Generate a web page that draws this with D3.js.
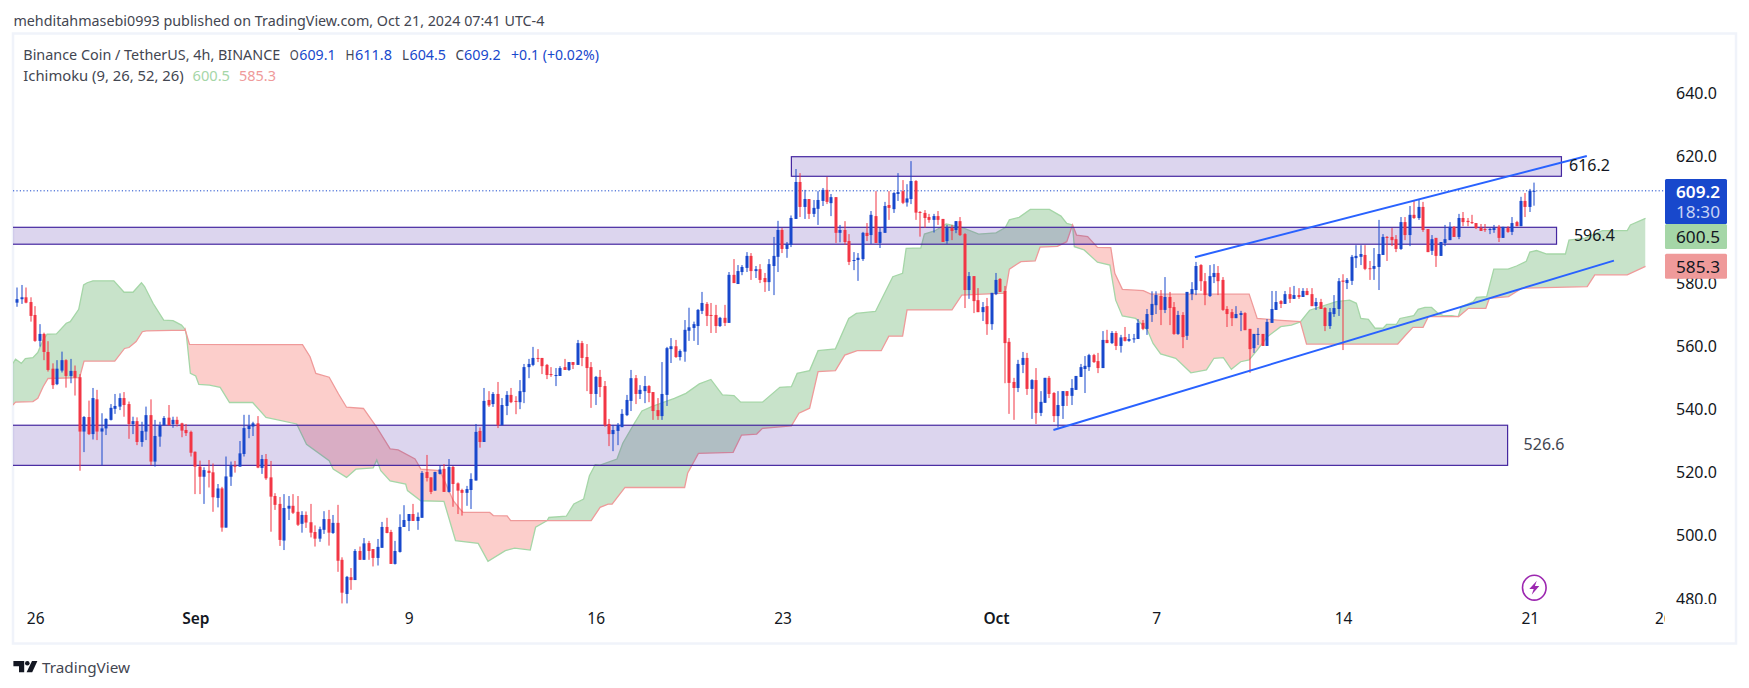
<!DOCTYPE html>
<html><head><meta charset="utf-8">
<style>html,body{margin:0;padding:0;background:#fff}svg{display:block;font-family:"Noto Sans",sans-serif}</style>
<script src="https://cdn.jsdelivr.net/npm/d3@7/dist/d3.min.js"></script>
</head><body>
<svg id="c" width="1749" height="688"></svg>
<script>
const opens=[573.8,574.9,575.5,574,569.9,561.7,563.9,558.2,552.9,548,
552.3,555.6,550.6,552.2,550.2,533,537.6,532.2,543.2,533,
534,536.7,540.2,540.9,543.6,541.7,535.4,536.3,529.7,533,
538.2,523.5,531.4,535,537.4,535.4,536.7,535.6,533.5,532.9,
526.6,521.9,518.7,520.6,520.1,512,515,502.6,518.7,522.2,
521.9,525.9,533.8,534.6,535.6,521.5,524.3,518.5,512.6,510.1,
498.5,508.6,509.5,507.6,503.8,506.6,504.3,501.2,499.1,501.9,
505.3,500.9,504.1,492.4,481.6,486.9,486,495.2,492.4,497.7,
495.8,493,496.2,502.8,501.2,491.1,494.9,502.8,504.7,506.9,
504.7,505.7,520.2,518.5,514.3,519.6,521.2,513.9,521.8,516.6,
514.5,513.6,514.5,517.5,533.2,529.7,543,541.7,544.9,535,
541.1,544.6,542.7,542.3,545.5,553.4,554.1,556.3,556.3,554.1,
551.2,550.7,550.6,553.4,552.5,555,554.1,561,556.6,553.4,
544.9,550.3,547.4,535.4,532.2,533.2,534.4,538.2,542.7,549.9,
544.9,545.8,547.4,545.5,539.8,537.9,544.6,559.1,560,556.6,
558.3,564.9,565.8,566.4,571.2,573.4,569.9,569.9,566.4,569,
567.4,582.6,579.7,583.5,584.8,588.6,583.8,584.4,581.6,580.3,
585.4,588.3,596.8,590.8,592.1,600.3,612,604.1,606.6,601.9,
603.5,606,609.5,605.3,607.2,595.9,596.8,593.3,587,587.3,
587.6,595.9,595.2,601.2,592.7,595.9,604.7,603.4,608.2,609.1,
605.5,606.6,612.3,602.5,602.2,600.9,600,601.2,600.3,593.3,
597.4,596.8,599.6,595.5,577.8,582.2,574.6,570.8,572.7,567,
576.5,581.3,577.5,561.4,548.7,546.8,554.1,556.3,546.5,549.3,
538.9,542.1,550,545.2,537.9,541.1,545.8,544.3,546.2,550.3,
552.8,553.4,557.2,555.3,553.1,562,561,564.2,560.1,562.9,
561.7,562.4,562.3,567.4,565.5,569.9,573,575.9,571.5,575.6,
572.4,563.9,569.9,563.3,576.5,577.8,585.7,580.6,575.9,581.9,
583.2,581,571.8,570.8,568.9,569.9,570.5,565.5,559.4,563.7,
563.9,560.1,567.4,571.5,574.3,573.4,576.5,575,576.2,575.6,
577.5,576.5,572.7,574,572.1,566.4,570.2,571.8,580.8,580,
580.7,587.9,588.3,588.9,584.7,584.5,585.1,588.9,594.6,594.6,
593.9,590.8,599.3,595.2,601.6,600.6,604.1,597.1,590.2,594.3,
588.6,592.7,593.6,597.8,594.6,600.6,599.7,599.3,599,597.5,
597.1,596.8,596.8,597.8,594.3,597.4,596.2,599.3,598,606,
604.1,609.1];
const closes=[574.9,575.5,573.8,569.6,561.7,563.9,558.2,552.5,547.7,552.9,
555.6,550.6,552.2,550,533,537.6,532.2,543.6,533,534,
537,540.5,541.1,543.6,541.4,535.4,536.3,529.7,533.2,538.2,
523.5,531.6,535,537.3,535,536.7,535.4,533.3,532.5,526.3,
521.9,518.7,520.8,519.9,512.2,515,502.6,518.8,522.4,521.9,
526.1,534.1,534.8,535.6,521.6,524.3,518.2,512.4,509.8,498.7,
508.8,509.5,507.3,503.5,506.6,504.2,501,499.1,502.1,505.3,
501,504.1,492.1,482,487,486,495.2,492.4,497.6,495.2,
493,496.5,502.8,500.9,491.1,495.2,502.8,505,506.9,504.7,
506,519.9,518.3,513.9,520.2,521,513.9,521.8,516.4,514.3,
513.6,514.8,518,532.9,529.7,542.7,541.3,544.9,535,541.4,
544.6,542.3,542.5,545.8,553.4,554.4,556.3,556,553.7,550.9,
550.9,550.9,553.1,552.5,555,554.1,561,556.3,553.1,544.9,
550.3,547.1,535,532.2,533.5,535.1,538.6,543,549.9,544.9,
546.2,547.4,545.2,539.5,537.9,544.9,559.4,560,556.6,558.5,
565.2,566,567,571.5,573.7,569.6,569.6,566.4,569,567.4,
582.6,580,583.8,585.1,588.6,583.8,584.4,581,580.3,586,
588.6,596.8,590.8,592.4,600.6,612,604.1,606.6,601.9,603.8,
606.3,609.5,605.7,607.2,595.9,596.8,593,586.7,587.3,588,
595.9,594.9,601.6,592.7,596.2,604.4,603.8,608.5,608.8,605.4,
606.8,612.3,602.3,602.2,600.6,600,601.2,600,593,597.4,
596.5,599.6,595.2,577.8,582.2,574.3,570.8,572.4,567,576.9,
581,577.2,561,548.4,546.8,554.4,556.3,546.5,549.3,538.9,
542.4,550,544.9,537.9,541.4,545.8,544.3,546.8,550.6,553.4,
553.8,557.2,555,553.1,562,561,564.2,560.1,562.8,561.7,
562.3,562.5,567.4,565.5,570.2,573.4,576.2,571.5,575.6,572.1,
563.9,569.9,562.9,577.2,578.1,585.4,580.6,576.2,582.2,583.2,
580.6,571.5,570.2,568.9,570.2,570.5,565.1,559.1,563.9,563.9,
560.1,567.7,571.8,574,573.4,576.5,575,576.2,575.6,577.5,
576.2,572.7,574,571.8,566.4,570.8,572.1,580.6,580.4,581,
588.3,588.6,589.2,584.5,584.5,585.4,589.2,594.6,594.3,593.6,
590.8,599.3,595.2,601.6,600.6,604.1,596.8,589.8,593.9,588.6,
593,593.9,597.8,594.6,600.6,599.3,599.3,599,597.4,596.5,
596.8,597.1,597.4,594.3,597.8,596.2,599,598,606,604.1,
609.2,609.2];
const highs=[578.6,579.4,578.6,575.5,572.7,567,564.3,561.6,554.6,555.6,
558.3,555.9,556,553.9,551.2,537.9,542.8,546.8,546.2,538.8,
537.2,541.7,544.9,545.1,545.5,542.5,537.7,537.5,536.1,540.9,
543.2,536.7,536.1,537.9,541.4,537.7,537.7,535.8,535.4,533.3,
526.7,523.8,521.7,524,522.9,516.4,515.5,525.1,523.5,523.7,
530,538.3,538.3,536.1,537.9,525.6,525.9,523.7,513.5,512.3,
513.2,512.6,513.2,512.6,507.8,507.7,510.1,503.3,502.9,507.8,
508.2,506.6,509.8,493.2,487.3,489.8,495.8,496.6,499.3,498.4,
495.8,499,504.4,505.7,501.9,498.4,506.8,509.7,506.9,510.1,
507.4,520.5,525.6,518.5,520.3,522.2,522.7,524.3,522.1,516.9,
514.9,515.8,519.8,535.4,534.3,546.8,545.8,545.5,548.7,543.6,
545.8,546.8,544.2,549.3,554.4,556,559.8,559.1,556.3,554.4,
553.4,553.1,553.7,556,555,555,562,561.7,560.7,555,
550.6,552.5,549,537,535.1,535.7,540.1,544.6,552.5,550.9,
547.7,550.6,547.7,545.5,543.6,555,559.8,562.6,562,559,
568.3,572.2,567.8,571.8,577.2,574,573.7,573.1,569.3,573.1,
583.5,587.6,585.7,585.7,589.8,589.5,585.4,586,583.2,587.6,
594.6,599.7,597.4,593,601.4,616.1,614.8,609.5,606.6,606.3,
609.1,610.1,613.6,608.2,607.2,598.4,599.6,595.5,589.8,589.5,
596.2,599,602.8,609.1,597.7,605.7,609.1,608.8,614.8,612.6,
611.3,618.6,612.6,602.8,603.1,601.9,601.9,602.8,600.3,598.4,
598.4,599.6,600.9,595.8,583.5,582.2,578.4,574,575.3,576.9,
583.2,581.6,579.1,562.6,550,555.7,558.2,557.9,549.6,553.1,
545.8,550,550.6,545.5,545.8,545.8,545.8,549.6,550.6,554.4,
556.9,557.6,557.6,557.9,564.8,565.2,564.8,564.8,563.6,566.1,
563.9,563.9,568.6,568.3,571.8,577.4,577.4,577.8,581.9,577.2,
574,571.2,570.8,577.2,580.3,586.7,586,583.2,585.7,586,
585.4,581.9,572.7,571.8,572.7,571.2,570.8,565.5,563.9,565.8,
563.9,568.6,577.5,577.5,574.6,577.5,578.7,579.1,578.4,578.4,
578.4,578.4,575.3,575,572.4,572.1,576.2,581.6,582.8,581.6,
588.9,592,592,592,587,591.1,600,595.5,594.9,597.4,
595.2,600.9,600.9,604.4,606.3,606.3,605.7,597.1,595.2,594.3,
593,598.4,599.3,598,601.9,602.5,600.6,601.6,599,598.7,
598.7,597.4,598.4,598.4,597.8,598,600.9,599.7,607.3,608.5,
609.8,611.8];
const lows=[572.5,573.4,573.6,567.8,561.4,559.9,555.6,552,546.5,547.7,
551.7,546.9,548.3,544.4,520.6,526.5,531.9,530.5,530.3,522.3,
531.9,536.5,538.6,539.8,537.7,530.7,532.2,528.7,528.2,530.3,
522.4,521.9,528.2,535,535,534.2,534.6,531.2,531.6,525.1,
513.2,513.2,510.1,515.3,507.6,509,501.3,502.6,515.8,520,
521.9,525.1,530.9,531.6,521.4,519.6,517.7,501.3,508.2,496.8,
495.5,505,506.9,503.1,501,502.5,499.5,496.6,498.1,500.6,
496.9,500.6,488.6,478.6,478.6,482.9,486,492.4,492.4,492.4,
490.3,490.6,496.2,500.8,491.1,490.9,494.7,502.8,501.5,504.7,
501.9,505.7,517.2,513.2,514.3,519.4,513.9,513.7,509.2,506.9,
506.4,509.5,508.5,517.5,527.9,529.7,540.8,540.8,534.1,535,
538.2,542,538.5,540.1,542,549.9,553.7,555,551.2,549.6,
550.3,547.4,550.6,552.5,552.2,552.8,554.1,553.7,545.8,540.5,
541.4,543.9,534.5,528.4,526.8,528.7,534.4,537.9,539.5,541.7,
543.3,542,542.3,536.7,536.7,536.7,541.1,554.7,556.3,555.5,
555.1,561.7,561.7,560.4,570.2,566.4,564.2,564.2,566.1,566.4,
567.4,580,579.7,582.5,583.5,581,581.6,580,577.2,577.5,
576.2,583.5,589.5,588,591.4,600.3,600.9,600.3,600.3,600.9,
598.4,604.4,605,601.2,592.7,592.9,592.1,585.7,584.1,580.7,
587,593.3,592.4,592.7,591.1,595.9,600,602.2,606,605,
604.2,605,600,594.7,597.5,599.1,596,598.4,593,592.4,
593.6,595.8,594.9,572.1,575,570.5,570.8,568,563.6,565.2,
576.2,577.2,548.3,538.6,536.7,545.5,551.5,544.6,537,535.4,
537.9,542.1,543.6,536,534.3,537,541.1,541.4,546.2,550.3,
545.2,552.2,554.7,551.5,553.1,561,560.7,558.8,558,561.5,
561.4,561.1,562.3,565.1,563.6,567.7,570.2,566.7,570.5,566.7,
563.6,563.6,559.4,562,574.6,576.2,577.5,573,575.6,580,
576.2,571.2,566.1,566.4,568.9,564.8,565.1,551.6,557.9,560.4,
560.1,560.1,567.4,571.5,572.1,573.4,573.7,575,575,575.6,
576.2,572.7,571.5,571.8,564.8,565.5,569.3,569.6,558.8,578.1,
579.4,584.8,585.7,584.1,581,581,577.8,588.9,587,591.7,
589.8,590.5,593.6,591.7,600.3,600,596.2,589.8,588.9,585.1,
588.6,591.7,593.6,594.6,593.9,598,598,598.7,597.1,596.5,
596.2,595.5,595.9,593,594.3,595.9,595.2,598,598,600.9,
602.5,604.5];

// Ichimoku spans: [bar number, price]
const spanA=[[-1,554.6],[-0.4,555.9],[0.9,554.6],[1.8,556.1],[3.5,556.4],[4.6,558],[5.8,562],[6.7,563.8],[8.8,563.9],[11,567.3],[11.9,567.8],[13.8,571.7],[14.9,579.4],[15.7,580.1],[17,580.7],[21.7,580.7],[24,577.1],[26,577.1],[27.9,580.1],[28.6,578.9],[30.5,573.6],[32.9,568.3],[35,568.1],[36.9,566.7],[37.7,565.4],[38,563.6],[38.9,551.4],[40.1,550.6],[40.8,547.9],[43.2,547.7],[45.6,547],[47.7,542.2],[52.9,542.2],[55.9,537.5],[62.8,535.4],[65,529],[70.1,523.8],[71,521.1],[74,518.5],[76.1,521.1],[80,521.5],[80.8,524],[81.7,520.6],[83.8,517.4],[87.3,516.4],[87.7,514.3],[90.7,511.1],[95.9,510.9],[98.5,498.5],[103.6,497.6],[105.8,491.9],[109.7,495.3],[111.8,496.1],[115.3,495.5],[116.5,502.7],[119.1,504.8],[119.5,505.8],[123.4,506.2],[125.1,510.1],[127.3,511.6],[128.6,519],[129.9,522.5],[131,522.4],[134.8,524.3],[136.1,529.3],[138.7,535.6],[140.4,539.5],[142.6,540.9],[147.7,543.5],[150.3,545.1],[153.3,548.1],[155.9,549.5],[158.5,544.6],[161.1,544.4],[162.6,542.3],[167.5,542.3],[171.4,547],[174,547.2],[175.3,551.4],[178.1,552.3],[180,558.6],[183.9,559.2],[186.9,568.8],[188.6,570.4],[192.9,571],[196.8,582],[199,583.1],[199.8,591],[203.1,591.1],[203.9,595.5],[206.2,596.5],[208.8,598.7],[212.3,597.6],[216.1,595.5],[220,595.9],[222.1,597.6],[223,600],[225.2,600.8],[227.7,603.3],[232,603.3],[234.6,601.2],[235.9,598.9],[237.2,598.4],[237.6,591.5],[239.8,590.5],[242.8,586.6],[245.6,585.7],[246.9,574.6],[248.4,569.6],[251.4,568.8],[254,565.2],[255.3,560.9],[257,557.6],[260.4,556.2],[263.8,551.6],[267.3,552.5],[269,556.2],[271.1,556.4],[272.9,552.7],[275,555.1],[276.9,555.7],[278.7,558.8],[281,563],[284,566.2],[286.4,566.7],[288.4,567.7],[290.5,571.4],[296.5,574.1],[299.5,574.6],[301,573.6],[302,568.8],[303.7,568.5],[305.2,565.7],[307,565.7],[307.8,566.9],[310,566.9],[310.8,568.8],[313.9,569.7],[314.9,571.7],[316.4,572.3],[317.9,572.3],[319.4,570.4],[320.5,569.7],[322.4,569.7],[323.9,569.4],[324.6,572.5],[327.3,574.1],[328,575.5],[330.3,575.7],[331.9,584.4],[335.1,584.4],[337,585.4],[339.2,586.9],[340,589.8],[341.5,590.3],[343.8,589.2],[348,589.2],[348.8,593.6],[352.4,594.2],[356.3,596.6],[361.9,596.6],[362.6,598.4],[366,600.5]];
const spanB=[[-1,541.4],[-0.4,542.3],[3.5,542.5],[4.6,543.5],[5.8,547.2],[6.9,549.8],[14,550.1],[15,555.3],[21.9,555.3],[24.1,559.3],[25.1,559.6],[26.7,561.5],[28.1,564.6],[29,564.9],[37.6,565.1],[37.7,565.4],[38.7,560.6],[64.1,560.5],[65.8,556.7],[67.1,551.4],[70.1,550.2],[72.2,544.9],[74,540.7],[77.8,540.3],[80.8,534.3],[83.8,527.5],[85.6,527.2],[89.4,524.3],[90.7,521.1],[95,520.6],[98,511.1],[99.3,508.8],[100.2,507.4],[106.2,507.4],[107,506.4],[110.1,506.3],[110.9,504.8],[129,504.8],[131,509],[132.8,510],[133.7,510],[136.6,515.3],[150,515.3],[150.7,519.9],[153.1,526.1],[160.9,526.4],[162.8,531.9],[166.2,532.2],[167.5,534],[174,534.8],[175.7,538.8],[178.1,540.4],[180,552],[183.9,552.3],[186,557.2],[188.8,558.6],[194.2,558.6],[195.9,563.2],[199,563.2],[200,571.5],[210.1,571.5],[212.3,576.2],[217,576.5],[222.1,576.8],[223,584.4],[225.6,586.8],[228.8,587],[229.9,591.4],[233.8,591.6],[235.9,593.1],[237.2,598.4],[238.1,595.2],[240.6,594.7],[242.8,591.3],[245.8,591.2],[246.7,583.1],[248.4,578],[253.1,577.6],[254.8,576.5],[276.9,576.5],[278.7,568.8],[283.2,568.3],[288.4,567.8],[289.8,560.7],[310.3,560.7],[312,563.4],[313.7,566],[316,566],[317.2,569.4],[324,569.4],[326.2,572],[330.1,572],[330.9,575.2],[335.2,575.7],[338.2,578.4],[352.9,578.9],[354.6,582.6],[361.9,582.6],[366,585.3]];

// Zones: [first bar, last bar, top price, bottom price]
const zones=[[174,347.1,620,613.8],[-2,346,597.65,592.3],[-2,335,535,522.3]];
const zoneLabels=["616.2","596.4","526.6"];
const zoneLabelBars=[348.8,349.9,338.6];
const zoneLabelPrices=[617.4,595.2,529];
const trendUpper=[[264.7,588.2],[352.8,620.2]];
const trendLower=[[232.9,533.5],[358.9,587.1]];

const priceTicks=[640,620,580,560,540,520,500,480];
const timeTickBars=[4,40,88,130,172,220,256,298,340,370];
const timeLabels=["26","Sep","9","16","23","Oct","7","14","21","26"];
const lastPrice=609.2, spanALast=600.5, spanBLast=585.3;

const paneLeft=13, paneRight=1665, paneTop=34, paneBottom=604;
const BLUE="#1848cc",RED="#f23645",INK="#131722",PURPLE="#4527a0";
const x=d3.scaleLinear().domain([0,341]).range([17.33,1534.3]);
const y=d3.scaleLinear().domain([480,620]).range([599,156.7]);
const svg=d3.select("#c");
const defs=svg.append("defs");
defs.append("clipPath").attr("id","pane").append("rect").attr("x",paneLeft).attr("y",paneTop).attr("width",paneRight-paneLeft).attr("height",paneBottom-paneTop);
defs.append("clipPath").attr("id","timeclip").append("rect").attr("x",paneLeft).attr("y",606).attr("width",paneRight-paneLeft).attr("height",36);
defs.append("clipPath").attr("id","priceclip").append("rect").attr("x",paneRight).attr("y",paneTop).attr("width",70).attr("height",paneBottom-paneTop);

function txt(s,px,py,len,size,fill,weight){
  const t=svg.append("text").attr("x",px).attr("y",py).attr("dominant-baseline","central").attr("font-size",size).attr("fill",fill).text(s);
  if(len)t.attr("textLength",len).attr("lengthAdjust","spacingAndGlyphs");
  if(weight)t.attr("font-weight",weight);
  return t;
}

// frame
svg.append("rect").attr("x",13).attr("y",33.5).attr("width",1723).attr("height",610).attr("fill","#fff").attr("stroke","#f0f3fa").attr("stroke-width",2.5);

const pane=svg.append("g").attr("clip-path","url(#pane)");

// cloud: one fill per colour, each limited to where its span is on top
const lineAB=d3.line().x(d=>x(d[0])).y(d=>y(d[1]));
const below=d3.area().x(d=>x(d[0])).y0(paneBottom+200).y1(d=>y(d[1]));
const above=d3.area().x(d=>x(d[0])).y0(-200).y1(d=>y(d[1]));
defs.append("clipPath").attr("id","aboveB").append("path").attr("d",above(spanB));
defs.append("clipPath").attr("id","aboveA").append("path").attr("d",above(spanA));
pane.append("g").attr("clip-path","url(#aboveB)").append("path").attr("d",below(spanA)).attr("fill","#43a047").attr("fill-opacity",.29);
pane.append("g").attr("clip-path","url(#aboveA)").append("path").attr("d",below(spanB)).attr("fill","#f44336").attr("fill-opacity",.26);
pane.append("path").attr("d",lineAB(spanA)).attr("fill","none").attr("stroke","#a5d6a7").attr("stroke-width",1.3);
pane.append("path").attr("d",lineAB(spanB)).attr("fill","none").attr("stroke","#ef9a9a").attr("stroke-width",1.3);

// zones
pane.selectAll("rect.zone").data(zones).join("rect").attr("class","zone")
  .attr("x",d=>x(d[0])).attr("width",d=>x(d[1])-x(d[0]))
  .attr("y",d=>y(d[2])).attr("height",d=>y(d[3])-y(d[2]))
  .attr("fill","#512da8").attr("fill-opacity",.2).attr("stroke",PURPLE).attr("stroke-width",1.2);

// last price line
pane.append("line").attr("x1",paneLeft).attr("x2",paneRight).attr("y1",y(lastPrice)).attr("y2",y(lastPrice))
  .attr("stroke",BLUE).attr("stroke-width",1).attr("stroke-dasharray","1.2 2.2");

// candles
const bars=pane.append("g").selectAll("g").data(opens.map((o,i)=>({i,o,c:closes[i],h:highs[i],l:lows[i]}))).join("g")
  .attr("fill",d=>d.c>=d.o?BLUE:RED);
bars.append("rect").attr("x",d=>Math.round(x(d.i))-.5).attr("width",1)
  .attr("y",d=>y(d.h)).attr("height",d=>y(d.l)-y(d.h));
bars.append("rect").attr("x",d=>Math.round(x(d.i))-1.5).attr("width",3)
  .attr("y",d=>y(Math.max(d.o,d.c))).attr("height",d=>Math.max(1,Math.abs(y(d.o)-y(d.c))));

// trend lines
[trendUpper,trendLower].forEach(t=>pane.append("path").attr("d",lineAB(t)).attr("fill","none").attr("stroke","#2962ff").attr("stroke-width",2));

// zone labels
zoneLabels.forEach((s,i)=>{
  pane.append("text").attr("x",x(zoneLabelBars[i])).attr("y",y(zoneLabelPrices[i])).attr("dominant-baseline","central")
    .attr("font-size",16).attr("fill",i==2?"#434651":"#131722").text(s);
});

// lightning mark
const bolt=svg.append("g").attr("transform",`translate(${x(341)},587.7)`);
bolt.append("ellipse").attr("rx",11.8).attr("ry",12.4).attr("fill","none").attr("stroke","#9c27b0").attr("stroke-width",1.6);
bolt.append("path").attr("d","M2.5,-7 L-5,1.2 L-0.6,1.2 L-2.6,7 L5,-1.6 L0.6,-1.6 Z").attr("fill","#9c27b0");

// price axis
const yAxis=d3.axisRight(y).tickValues(priceTicks).tickFormat(d3.format(".1f")).tickSize(0).tickPadding(0);
const gy=svg.append("g").attr("clip-path","url(#priceclip)").append("g").attr("transform","translate(1676,0)").call(yAxis);
gy.select(".domain").remove();
gy.selectAll("text").attr("font-family","'Noto Sans',sans-serif").attr("font-size",16).attr("fill",INK).attr("text-anchor","start");

// time axis
const xAxis=d3.axisBottom(x).tickValues(timeTickBars).tickFormat((d,i)=>timeLabels[i]).tickSize(0).tickPadding(0);
const gx=svg.append("g").attr("clip-path","url(#timeclip)").append("g").attr("transform","translate(0,613)").call(xAxis);
gx.select(".domain").remove();
gx.selectAll("text").attr("font-family","'Noto Sans',sans-serif").attr("font-size",15.5).attr("fill",INK)
  .attr("font-weight",(d,i)=>/[A-Z]/.test(timeLabels[i])?600:400);

// price tags (the Ichimoku tag is pushed down below the last-price tag, as on the reference)
function tag(y0,y1,fill){svg.append("rect").attr("x",1665).attr("width",62).attr("y",y0).attr("height",y1-y0).attr("rx",1.5).attr("fill",fill);}
const yl=y(lastPrice);
tag(yl-11.8,yl+33.2,BLUE);
txt(d3.format(".1f")(lastPrice),1676,yl+1,44,16,"#fff",600);
txt("18:30",1676,yl+21,44,16,"#c8d4f5",400);
const ya=yl+45.7, yb=y(spanBLast);
tag(ya-12.5,ya+12.5,"#a5d6a7");
txt(d3.format(".1f")(spanALast),1676,ya+.5,44,16,INK);
tag(yb-12.5,yb+12.5,"#ef9a9a");
txt(d3.format(".1f")(spanBLast),1676,yb+.5,44,16,INK);

// header + legend
txt("mehditahmasebi0993 published on TradingView.com, Oct 21, 2024 07:41 UTC-4",13.4,20,531,14.5,"#434651");
txt("Binance Coin / TetherUS, 4h, BINANCE",23.3,54,257,14.5,"#434651");
const lg=[["O",289.7,"#434651"],["609.1",299.3,BLUE],["H",345.6,"#434651"],["611.8",355,BLUE],["L",402,"#434651"],["604.5",409.5,BLUE],["C",455.4,"#434651"],["609.2",464,BLUE],["+0.1 (+0.02%)",511,BLUE]];
const lens=[9,36.3,9,37,7,36.5,8.5,36.6,88];
lg.forEach((d,i)=>txt(d[0],d[1],54,lens[i],14.5,d[2]));
txt("Ichimoku (9, 26, 52, 26)",23.3,75,160.4,14.5,"#434651");
txt("600.5",192.5,75,37.5,14.5,"#a5d6a7");
txt("585.3",239,75,37,14.5,"#ef9a9a");

// TradingView logo
const logo=svg.append("g").attr("fill","#131722");
logo.append("path").attr("d","M13.4,661 H24.2 V672.3 H19 V666.2 H13.4 Z");
logo.append("circle").attr("cx",27.3).attr("cy",663.2).attr("r",2.3);
logo.append("path").attr("d","M32,661 H37.4 L32.2,672.3 H26.6 Z");
txt("TradingView",42,666.6,88,15,"#434651");

if(opens.length!==342||closes.length!==342||highs.length!==342||lows.length!==342)console.error("len",opens.length,closes.length,highs.length,lows.length);
</script>
</body></html>
